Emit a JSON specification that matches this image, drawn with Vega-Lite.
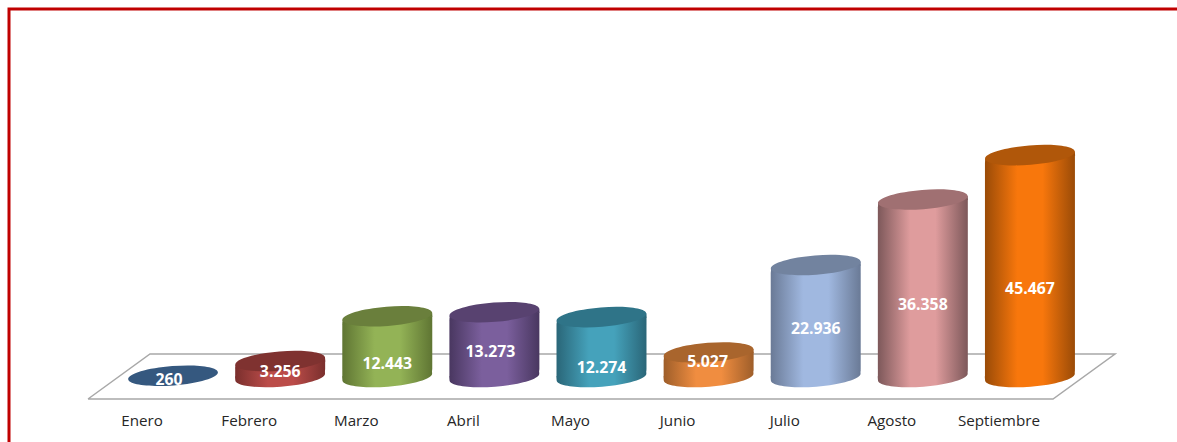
{
"$schema":"https://vega.github.io/schema/vega-lite/v6.json",
"width":1177,"height":442,"padding":0,"autosize":{"type":"none"},"background":"white",
"config":{"view":{"stroke":null}},
"params":[
{"name":"tonos","value":{"Enero":["#2b4a70","#3a6295"],"Febrero":["#7a2f2d","#bb4c49"],"Marzo":["#5f7533","#93b356"],"Abril":["#493760","#7b5f9d"],"Mayo":["#2a6678","#45a2bb"],"Junio":["#9e5e2a","#f08d40"],"Julio":["#6a7a96","#a0b8e0"],"Agosto":["#7d585a","#df9c9d"],"Septiembre":["#9a4b07","#f8770c"]}}
],
"datasets":{
"meses":[
{"mes":"Enero","valor":260},{"mes":"Febrero","valor":3256},{"mes":"Marzo","valor":12443},{"mes":"Abril","valor":13273},{"mes":"Mayo","valor":12274},{"mes":"Junio","valor":5027},{"mes":"Julio","valor":22936},{"mes":"Agosto","valor":36358},{"mes":"Septiembre","valor":45467}
],
"marco":[
{"forma":"suelo","orden":1,"h":88,"v":399},{"forma":"suelo","orden":2,"h":1053,"v":399},{"forma":"suelo","orden":3,"h":1115,"v":354},{"forma":"suelo","orden":4,"h":150,"v":354},{"forma":"suelo","orden":5,"h":88,"v":399},
{"forma":"borde","orden":1,"h":9,"v":442},{"forma":"borde","orden":2,"h":9,"v":9},{"forma":"borde","orden":3,"h":1177,"v":9}
]},
"resolve":{"scale":{"x":"independent","y":"independent"}},
"layer":[
{"data":{"name":"marco"},"mark":{"type":"line","interpolate":"linear"},
"encoding":{
"x":{"field":"h","type":"quantitative","axis":null,"scale":{"domain":[0,1177],"range":[0,1177]}},
"y":{"field":"v","type":"quantitative","axis":null,"scale":{"domain":[0,442],"range":[0,442]}},
"order":{"field":"orden"},
"detail":{"field":"forma"},
"stroke":{"field":"forma","type":"nominal","legend":null,"scale":{"domain":["suelo","borde"],"range":["#a8a8a8","#c00000"]}},
"strokeWidth":{"field":"forma","type":"nominal","legend":null,"scale":{"domain":["suelo","borde"],"range":[1.5,3]}}
}},
{"data":{"name":"meses"},
"encoding":{
"x":{"field":"mes","type":"nominal","sort":null,"title":null,
"scale":{"domain":["Enero","Febrero","Marzo","Abril","Mayo","Junio","Julio","Agosto","Septiembre"],"range":[119.5,1083.5],"paddingInner":0.16,"paddingOuter":0.08},
"axis":{"orient":"bottom","offset":-26,"labelOffset":-31,"labelAngle":0,"domain":false,"ticks":false,"grid":false,"labelFont":"Open Sans","labelFontSize":15.2,"labelColor":"#262626","labelPadding":4,"labelBaseline":"middle"}},
"y":{"field":"valor","type":"quantitative","axis":null,"scale":{"domain":[0,50000],"range":[377,133]}}
},
"layer":[
{"transform":[{"filter":"datum.valor>1000"}],
"mark":{"type":"point","filled":true,"opacity":1,"size":8100,"angle":-4.5,"shape":"M-1,-0.09L1,-0.09L1,0A1,0.215,0,1,1,-1,0Z",
"fill":{"expr":"{gradient:'linear',x1:0,x2:1,y1:0,y2:0,stops:[{offset:0,color:tonos[datum.mes][0]},{offset:0.36,color:tonos[datum.mes][1]},{offset:0.64,color:tonos[datum.mes][1]},{offset:1,color:tonos[datum.mes][0]}]}"}},
"encoding":{"y":{"datum":0}}},
{"transform":[{"filter":"datum.valor>1000"}],
"mark":{"type":"bar","cornerRadiusTopLeft":8,"cornerRadiusBottomRight":8,
"fill":{"expr":"{gradient:'linear',x1:0,x2:1,y1:0,y2:0,stops:[{offset:0,color:tonos[datum.mes][0]},{offset:0.36,color:tonos[datum.mes][1]},{offset:0.64,color:tonos[datum.mes][1]},{offset:1,color:tonos[datum.mes][0]}]}"}},
"encoding":{"y2":{"datum":0}}},
{"transform":[{"filter":"datum.valor>1000"}],
"mark":{"type":"point","filled":true,"opacity":1,"size":8100,"angle":-4.5,"shape":"M-1,0L1,0L1,0.09L-1,0.09Z",
"fill":{"expr":"{gradient:'linear',x1:0,x2:1,y1:0,y2:0,stops:[{offset:0,color:tonos[datum.mes][0]},{offset:0.36,color:tonos[datum.mes][1]},{offset:0.64,color:tonos[datum.mes][1]},{offset:1,color:tonos[datum.mes][0]}]}"}}},
{"mark":{"type":"point","filled":true,"opacity":1,"size":8100,"angle":-4.5,"shape":"M-1,0A1,0.215,0,1,1,1,0A1,0.215,0,1,1,-1,0Z"},
"encoding":{
"color":{"field":"mes","type":"nominal","legend":null,"sort":null,
"scale":{"domain":["Enero","Febrero","Marzo","Abril","Mayo","Junio","Julio","Agosto","Septiembre"],"range":["#35587f","#7f3230","#6a7f3c","#584270","#2f7488","#a9652d","#72839f","#a07072","#b0570a"]}}}},
{"transform":[{"calculate":"replace(format(datum.valor,',d'),',','.')","as":"etiqueta"}],
"mark":{"type":"text","font":"Open Sans","fontWeight":"bold","fontSize":15.8,"fill":"white","baseline":"middle",
"dy":{"expr":"{'Enero':4,'Febrero':11,'Marzo':48,'Abril':40,'Mayo':51,'Junio':9.5,'Julio':64,'Agosto':105,'Septiembre':134}[datum.mes]"},
"dx":{"expr":"{'Enero':-4,'Abril':-4,'Junio':-1}[datum.mes]||0"}},
"encoding":{"text":{"field":"etiqueta","type":"nominal"}}}
]}
]
}
